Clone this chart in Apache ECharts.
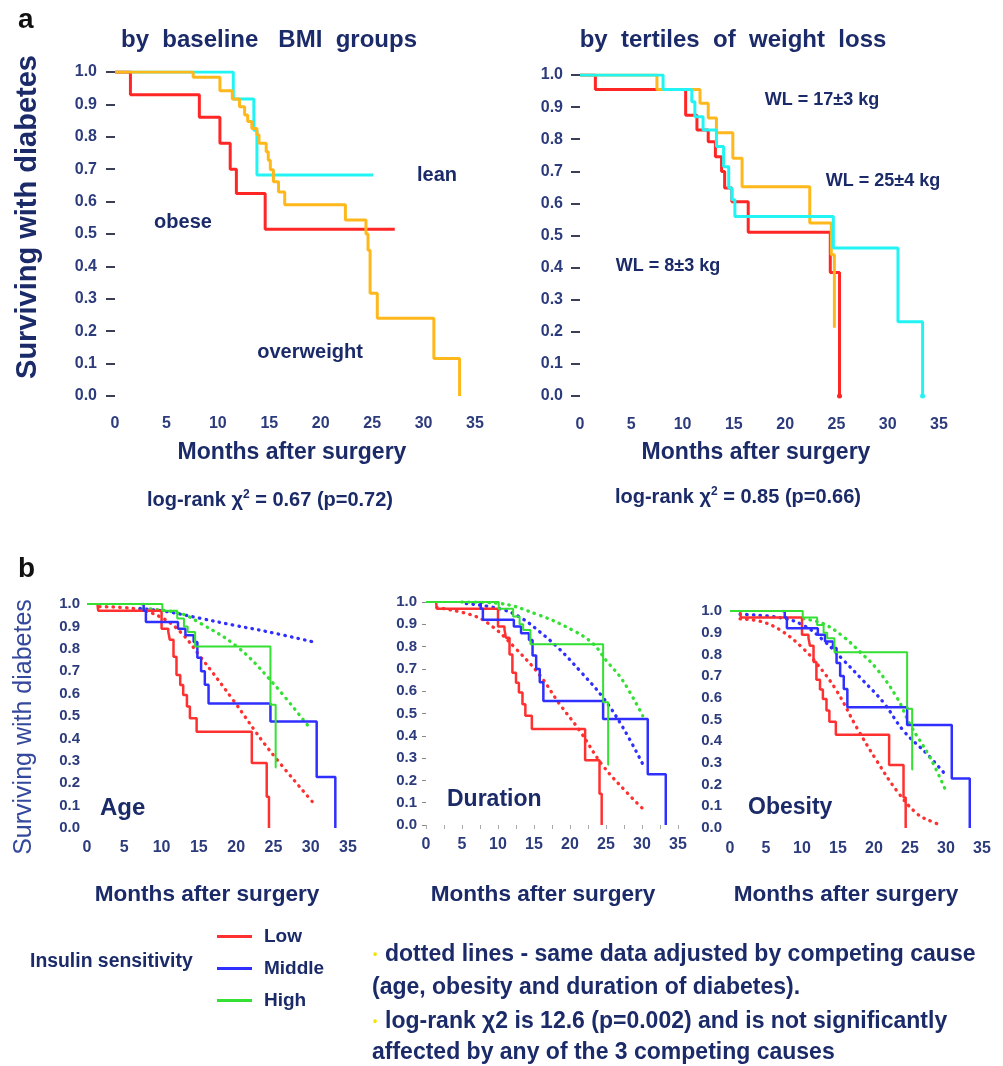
<!DOCTYPE html>
<html><head><meta charset="utf-8">
<script src="https://cdn.jsdelivr.net/npm/echarts@6/dist/echarts.min.js"></script>
<style>html,body{margin:0;padding:0;background:#fff}#c{width:1003px;height:1066px}</style>
</head><body><div id="c"></div>
<script>
// ---------- data ----------
const xTickValues = [0, 5, 10, 15, 20, 25, 30, 35];
const yTickValues = [0, 0.1, 0.2, 0.3, 0.4, 0.5, 0.6, 0.7, 0.8, 0.9, 1.0];

// Panel a-left: by baseline BMI groups  [month, surviving fraction]
const bmiLean = [[0,1],[11.5,0.917],[13.5,0.82],[13.8,0.682],[25.1,0.682]];
const bmiObese = [[0,1],[1.5,0.93],[8.2,0.86],[10.2,0.78],[11.2,0.70],[11.8,0.625],[14.6,0.515],[27.2,0.515]];
const bmiOverweight = [[0,1],[7.6,0.984],[10.2,0.942],[11.4,0.917],[12.1,0.893],[12.6,0.867],[12.9,0.847],[13.3,0.826],[13.8,0.806],[14.0,0.78],[14.7,0.754],[14.9,0.728],[15.1,0.698],[15.4,0.661],[15.9,0.63],[16.5,0.59],[22.4,0.543],[24.4,0.50],[24.6,0.45],[24.8,0.317],[25.5,0.24],[31.0,0.116],[33.5,0]];

// Panel a-right: by tertiles of weight loss
const wl8 = [[0,1],[1.5,0.955],[10.3,0.875],[11.4,0.829],[12.5,0.792],[13.2,0.745],[13.8,0.699],[14.1,0.648],[14.8,0.605],[16.4,0.51],[24.4,0.385],[25.3,0]];
const wl17 = [[0,1],[7.5,0.955],[11.7,0.912],[12.5,0.866],[13.3,0.82],[14.9,0.741],[15.8,0.652],[22.4,0.539],[24.5,0.44],[24.8,0.213]];
const wl25 = [[0,1],[8.1,0.955],[10.9,0.917],[11.2,0.87],[12.0,0.829],[13.3,0.777],[14.0,0.714],[14.5,0.648],[14.8,0.611],[15.1,0.559],[24.7,0.461],[31.0,0.231],[33.4,0]];

// Panel b: insulin sensitivity (Kaplan-Meier, same in the three panels)
const lowKM = [[1.4,1],[1.5,0.97],[10.0,0.89],[10.9,0.876],[11.1,0.84],[11.6,0.765],[12.0,0.683],[12.5,0.638],[12.9,0.594],[13.4,0.542],[13.8,0.49],[14.7,0.43],[22.1,0.29],[24.1,0.14],[24.4,0]];
const midKM = [[7.2,1],[7.6,0.97],[7.9,0.92],[12.2,0.89],[13.2,0.86],[14.3,0.83],[14.8,0.76],[15.3,0.70],[15.8,0.64],[16.3,0.556],[24.6,0.475],[30.8,0.228],[33.3,0]];
const highKM = [[0,1],[10.1,0.97],[12.1,0.935],[13.0,0.90],[13.5,0.875],[14.5,0.81],[24.6,0.55],[25.3,0.27],[25.4,0.27]];

// adjusted (dotted) curves
const ageLowAdj = [[1.7,0.988],[6.2,0.98],[9.8,0.943],[12.5,0.876],[15.2,0.765],[19.6,0.571],[24.1,0.363],[30.2,0.118]];
const ageMidAdj = [[7.1,0.98],[10.7,0.966],[15.2,0.936],[19.6,0.906],[24.1,0.877],[30.2,0.832]];
const ageHighAdj = [[7.6,0.98],[12.5,0.958],[15.2,0.914],[20.1,0.81],[24.6,0.66],[29.9,0.445]];
const durLowAdj = [[1.5,0.975],[6.5,0.94],[9.3,0.888],[12.5,0.79],[15.8,0.672],[18.5,0.545],[21.3,0.425],[24.5,0.269],[27.8,0.149],[30.3,0.067]];
const durMidAdj = [[5.6,0.993],[10.2,0.97],[13.0,0.933],[15.8,0.866],[18.5,0.79],[21.3,0.694],[24.5,0.575],[27.3,0.44],[30.3,0.261]];
const durHighAdj = [[5.0,1.0],[9.8,0.995],[15.8,0.94],[20.4,0.873],[23.2,0.813],[25.0,0.739],[27.3,0.649],[30.1,0.49]];
const obLowAdj = [[1.4,0.964],[4.6,0.949],[7.4,0.903],[10.2,0.826],[12.1,0.756],[14.8,0.633],[17.6,0.463],[20.4,0.309],[23.2,0.17],[26.0,0.065],[28.0,0.03],[29.4,0.012]];
const obMidAdj = [[1.4,0.985],[7.0,0.969],[10.2,0.934],[13.0,0.864],[15.8,0.772],[18.5,0.679],[21.3,0.579],[24.1,0.448],[27.4,0.34],[29.9,0.247]];
const obHighAdj = [[10.2,0.964],[13.0,0.941],[15.8,0.88],[18.1,0.81],[20.4,0.733],[23.2,0.60],[25.0,0.478],[27.8,0.324],[30.1,0.162]];

// ---------- styling ----------
const NAVY = '#1b2a68';
const TICK = '#2c3b7c';
const FONT = '"Liberation Sans", Arial, sans-serif';
const C_RED = '#ff2626', C_CYAN = '#22f4f4', C_ORANGE = '#ffb81c';
const C_LOW = '#ff3030', C_MID = '#2f2fff', C_HIGH = '#33e033';

const grids = [
  {left:115, top:72, width:360, height:324},
  {left:580, top:75, width:359, height:321},
  {left:87, top:604, width:261, height:224},
  {left:426, top:602, width:252, height:223},
  {left:730, top:611, width:252, height:217}
];

function xAx(i, fs, margin, extra) {
  return Object.assign({
    type:'value', gridIndex:i, min:xTickValues[0], max:xTickValues[xTickValues.length-1], interval:5,
    axisLine:{show:false}, axisTick:{show:false}, splitLine:{show:false},
    axisLabel:{fontSize:fs, fontWeight:'bold', color:TICK, fontFamily:FONT, margin:margin}
  }, extra || {});
}
function yAx(i, fs, margin, tick) {
  return {
    type:'value', gridIndex:i, min:yTickValues[0], max:yTickValues[yTickValues.length-1], interval:0.1,
    axisLine:{show:false}, splitLine:{show:false},
    axisTick: tick || {show:false},
    axisLabel:{fontSize:fs, fontWeight:'bold', color:TICK, fontFamily:FONT, margin:margin,
      formatter: v => v.toFixed(1)}
  };
}

// end points of some curves carry a small dot (censor mark)
function withEndDot(data, color) {
  return data.map((d, i) => i === data.length - 1
    ? {value:d, symbol:'circle', symbolSize:5, itemStyle:{color}}
    : {value:d, symbol:'none'});
}

function km(name, data, idx, color, width, z, endDot) {
  return {name, type:'line', xAxisIndex:idx, yAxisIndex:idx,
    data: endDot ? withEndDot(data, color) : data, step:'end',
    showSymbol: !!endDot, symbol: endDot ? 'none' : 'emptyCircle',
    lineStyle:{color, width}, itemStyle:{color}, z: z || 2, silent:true, animation:false};
}
function adj(name, data, idx, color) {
  return {name, type:'line', xAxisIndex:idx, yAxisIndex:idx, data, smooth:0.4, showSymbol:false,
    lineStyle:{color, width:3.3, type:[0.5,6.2], cap:'round'}, itemStyle:{color}, z:1, silent:true, animation:false};
}

function txt(text, x, y, size, opts) {
  opts = opts || {};
  return {type:'text', x, y, rotation: opts.rot || 0, z:10,
    style:{text, fill: opts.color || NAVY, font: (opts.weight || 'bold') + ' ' + size + 'px ' + (opts.family || FONT),
      textAlign: opts.align || 'center', textVerticalAlign:'middle', rich: opts.rich}};
}
const supRich = {s:{fontSize:12, fontWeight:'bold', fill:NAVY, fontFamily:FONT, verticalAlign:'top', padding:[0,0,10,0]}};

const option = {
  backgroundColor:'#fff',
  animation:false,
  grid: grids,
  xAxis: [
    xAx(0, 16, 20), xAx(1, 16, 21),
    xAx(2, 16, 12),
    xAx(3, 16, 12, {axisTick:{show:true, length:4, lineStyle:{color:'#aaa', width:1}}, minorTick:{show:true, splitNumber:2, length:4, lineStyle:{color:'#aaa'}}}),
    xAx(4, 16, 13)
  ],
  yAxis: [
    yAx(0, 16, 18, {show:true, length:9, lineStyle:{color:'#3a3f55', width:2}}),
    yAx(1, 16, 17, {show:true, length:9, lineStyle:{color:'#3a3f55', width:2}}),
    yAx(2, 15, 7),
    yAx(3, 15, 9, {show:true, length:4, lineStyle:{color:'#888', width:1}}),
    yAx(4, 15, 8)
  ],
  legend: {
    data:['Low','Middle','High'], orient:'vertical', left:212, top:922, icon:'rect',
    itemWidth:35, itemHeight:3, itemGap:13, selectedMode:false,
    textStyle:{fontSize:19, fontWeight:'bold', color:NAVY, fontFamily:FONT, padding:[4,0,0,7]}
  },
  series: [
    km('lean', bmiLean, 0, C_CYAN, 3, 2),
    km('obese', bmiObese, 0, C_RED, 3, 3),
    km('overweight', bmiOverweight, 0, C_ORANGE, 3, 4),
    km('WL 8±3', wl8, 1, C_RED, 3, 2, true),
    km('WL 17±3', wl17, 1, C_ORANGE, 3, 3),
    km('WL 25±4', wl25, 1, C_CYAN, 3, 4, true),
    // Age
    adj('Low adj age', ageLowAdj, 2, C_LOW), adj('Middle adj age', ageMidAdj, 2, C_MID), adj('High adj age', ageHighAdj, 2, C_HIGH),
    km('Low', lowKM, 2, C_LOW, 2.5, 3), km('Middle', midKM, 2, C_MID, 2.5, 3), km('High', highKM, 2, C_HIGH, 2, 4),
    // Duration
    adj('Low adj dur', durLowAdj, 3, C_LOW), adj('Middle adj dur', durMidAdj, 3, C_MID), adj('High adj dur', durHighAdj, 3, C_HIGH),
    km('Low', lowKM, 3, C_LOW, 2.5, 3), km('Middle', midKM, 3, C_MID, 2.5, 3), km('High', highKM, 3, C_HIGH, 2, 4),
    // Obesity
    adj('Low adj ob', obLowAdj, 4, C_LOW), adj('Middle adj ob', obMidAdj, 4, C_MID), adj('High adj ob', obHighAdj, 4, C_HIGH),
    km('Low', lowKM, 4, C_LOW, 2.5, 3), km('Middle', midKM, 4, C_MID, 2.5, 3), km('High', highKM, 4, C_HIGH, 2, 4)
  ],
  graphic: [
    txt('a', 18, 20, 28, {color:'#111', align:'left'}),
    txt('b', 18, 569, 28, {color:'#111', align:'left'}),
    txt('by  baseline   BMI  groups', 269, 40, 24),
    txt('by  tertiles  of  weight  loss', 733, 40, 24),
    txt('Surviving with diabetes', 28, 217, 29, {rot:Math.PI/2}),
    txt('Months after surgery', 292, 453, 23),
    txt('Months after surgery', 756, 453, 23),
    txt('log-rank χ{s|2} = 0.67 (p=0.72)', 270, 500, 20, {rich:supRich}),
    txt('log-rank χ{s|2} = 0.85 (p=0.66)', 738, 497, 20, {rich:supRich}),
    txt('lean', 437, 175, 20),
    txt('obese', 183, 222, 20),
    txt('overweight', 310, 352, 20),
    txt('WL = 17±3 kg', 822, 100, 18),
    txt('WL = 25±4 kg', 883, 181, 18),
    txt('WL = 8±3 kg', 668, 266, 18),
    txt('Surviving with diabetes', 24, 727, 25, {rot:Math.PI/2, weight:'normal', color:'#34489c'}),
    txt('Age', 100, 808, 24, {align:'left'}),
    txt('Duration', 447, 800, 23, {align:'left'}),
    txt('Obesity', 748, 808, 23, {align:'left'}),
    txt('Months after surgery', 207, 895, 22.6),
    txt('Months after surgery', 543, 895, 22.6),
    txt('Months after surgery', 846, 895, 22.6),
    txt('Insulin sensitivity', 30, 962, 19.4, {align:'left'}),
    txt('•', 373, 955, 12, {align:'left', color:'#f2e400'}),
    txt('dotted lines - same data adjusted by competing cause', 385, 955, 23, {align:'left'}),
    txt('(age, obesity and duration of diabetes).', 372, 988, 23, {align:'left'}),
    txt('•', 373, 1022, 12, {align:'left', color:'#f2e400'}),
    txt('log-rank χ2 is 12.6 (p=0.002) and is not significantly', 385, 1022, 23, {align:'left'}),
    txt('affected by any of the 3 competing causes', 372, 1053, 23, {align:'left'})
  ]
};

const chart = echarts.init(document.getElementById('c'), null, {renderer:'canvas'});
chart.setOption(option);
</script>
</body></html>
